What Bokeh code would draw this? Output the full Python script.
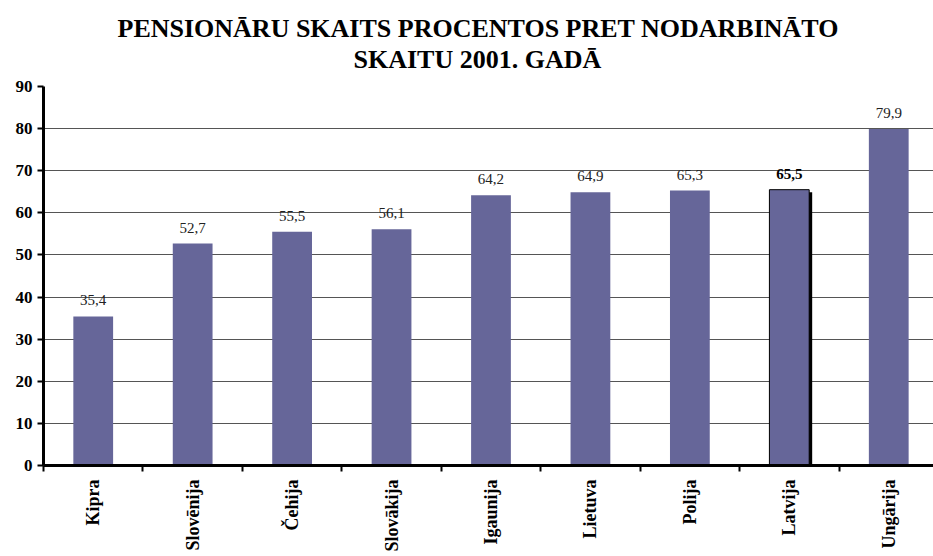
from bokeh.plotting import figure
from bokeh.models import ColumnDataSource, Range1d, FixedTicker, Title
from bokeh.transform import dodge
from bokeh.core.properties import value
from bokeh.embed import file_html
from bokeh.resources import INLINE

countries = ["Kipra", "Slovēnija", "Čehija", "Slovākija", "Igaunija", "Lietuva", "Polija", "Latvija", "Ungārija"]
values = [35.4, 52.7, 55.5, 56.1, 64.2, 64.9, 65.3, 65.5, 79.9]
y_ticks = [0, 10, 20, 30, 40, 50, 60, 70, 80, 90]
title_lines = ["PENSIONĀRU SKAITS PROCENTOS PRET NODARBINĀTO", "SKAITU 2001. GADĀ"]
title_offsets = [74, 310]
highlight = "Latvija"

FONT = "Liberation Serif"
BAR = "#666699"

xs = [i + 0.5 for i in range(len(countries))]
labels = [f"{v:.1f}".replace(".", ",") for v in values]
normal = [i for i, c in enumerate(countries) if c != highlight]
hi = [i for i, c in enumerate(countries) if c == highlight]

src_n = ColumnDataSource(dict(x=[xs[i] for i in normal], top=[values[i] for i in normal],
                              label=[labels[i] for i in normal]))
src_h = ColumnDataSource(dict(x=[xs[i] for i in hi], top=[values[i] for i in hi],
                              label=[labels[i] for i in hi]))

p = figure(width=933, height=556, output_backend="svg", toolbar_location=None,
           x_range=Range1d(0, 8.95), y_range=Range1d(0, 90),
           min_border_left=43, min_border_right=0, min_border_bottom=91, min_border_top=86)
p.outline_line_color = None
p.background_fill_color = "white"

# spacer between frame and title, then the two title lines (nearest first)
p.add_layout(Title(text=" ", text_font=FONT, text_font_size="10px", standoff=0), "above")
p.add_layout(Title(text=title_lines[1], align="left", offset=title_offsets[1], text_font=FONT,
                   text_font_size="26px", text_font_style="bold", text_color="black",
                   standoff=0), "above")
p.add_layout(Title(text=title_lines[0], align="left", offset=title_offsets[0], text_font=FONT,
                   text_font_size="26px", text_font_style="bold", text_color="black",
                   standoff=0), "above")

# bars
p.vbar(x="x", top="top", width=0.4, source=src_n, fill_color=BAR, line_color=None)
p.vbar(x=dodge("x", 0.03), top=dodge("top", -0.6), width=0.4, source=src_h,
       fill_color="black", line_color=None)
p.vbar(x="x", top="top", width=0.4, source=src_h, fill_color=BAR, line_color="black", line_width=1)

# value labels
p.text(x="x", y="top", text="label", source=src_n, text_align="center", text_baseline="bottom",
       y_offset=-11, text_font=value(FONT), text_font_size="15px", text_color="#222222")
p.text(x="x", y="top", text="label", source=src_h, text_align="center", text_baseline="bottom",
       y_offset=-11, text_font=value(FONT), text_font_size="15px", text_font_style="bold",
       text_color="black")

# axes
p.yaxis.ticker = FixedTicker(ticks=y_ticks, minor_ticks=[])
p.yaxis.axis_line_width = 3
p.yaxis.axis_line_color = "black"
p.yaxis.major_tick_line_width = 2
p.yaxis.major_tick_out = 6
p.yaxis.major_tick_in = 0
p.yaxis.major_label_text_font = FONT
p.yaxis.major_label_text_font_style = "bold"
p.yaxis.major_label_text_font_size = "17px"
p.yaxis.major_label_text_color = "black"
p.yaxis.major_label_standoff = 5

p.xaxis.ticker = FixedTicker(ticks=xs, minor_ticks=list(range(len(countries) + 1)))
p.xaxis.major_label_overrides = {x: c for x, c in zip(xs, countries)}
p.xaxis.major_label_orientation = 1.5708
p.xaxis.axis_line_width = 3
p.xaxis.axis_line_color = "black"
p.xaxis.major_tick_out = 0
p.xaxis.major_tick_in = 0
p.xaxis.major_tick_line_color = None
p.xaxis.minor_tick_out = 6
p.xaxis.minor_tick_in = 0
p.xaxis.minor_tick_line_width = 2
p.xaxis.minor_tick_line_color = "black"
p.xaxis.major_label_text_font = FONT
p.xaxis.major_label_text_font_style = "bold"
p.xaxis.major_label_text_font_size = "18px"
p.xaxis.major_label_text_color = "black"
p.xaxis.major_label_standoff = 8

p.xgrid.grid_line_color = None
p.ygrid.ticker = FixedTicker(ticks=y_ticks)
p.ygrid.grid_line_color = "#555555"
p.ygrid.grid_line_width = 1

open("out.html", "w").write(file_html(p, INLINE))
